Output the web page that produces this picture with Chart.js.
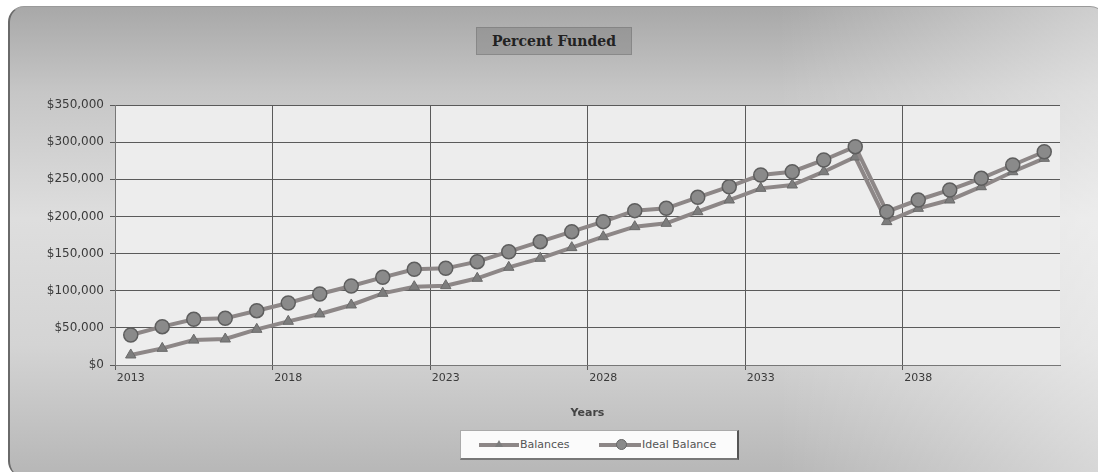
<!DOCTYPE html>
<html>
<head>
<meta charset="utf-8">
<script src="https://cdn.jsdelivr.net/npm/chart.js@4.4.0/dist/chart.umd.min.js"></script>
<style>
  html, body { margin: 0; padding: 0; background: #fff; }
  #wrap { position: relative; width: 1098px; height: 472px; overflow: hidden; }
  #card {
    position: absolute; left: 8px; top: 6px; width: 1096px; height: 470px;
    border-radius: 16px;
    border-left: 2px solid #6a6a6a; border-top: 1px solid #9a9a9a;
    background:
      linear-gradient(to right, rgba(255,255,255,0.0) 0%, rgba(255,255,255,0.0) 70%, rgba(255,255,255,0.45) 100%),
      linear-gradient(to bottom, #a8a8a8 0%, #c6c6c6 18%, #dedede 45%, #d4d4d4 72%, #b6b6b6 100%);
  }
  #title {
    position: absolute; left: 476px; top: 27px; width: 154px; height: 26px;
    background: rgba(110,110,110,0.35); border: 1px solid rgba(90,90,90,0.3);
    font: bold 14px "DejaVu Serif", "Liberation Serif", serif; color: #222;
    text-align: center; line-height: 26px;
  }
  #legend {
    position: absolute; left: 460px; top: 430px; width: 276px; height: 27px;
    background: #fbfbfb; border: 1px solid #aaa; border-right: 2px solid #555; border-bottom: 2px solid #777;
    font: 11px "DejaVu Sans", Arial, sans-serif; color: #555;
  }
  .item { position: absolute; top: 0; height: 27px; line-height: 27px; }
  .sample { position: absolute; top: 12px; height: 4px; background: #8d8787; }
  .tri { position: absolute; width: 0; height: 0; border-left: 4px solid transparent; border-right: 4px solid transparent; border-bottom: 7px solid #7d7d7d; }
  .dot { position: absolute; width: 9px; height: 9px; border-radius: 50%; background: #8a8a8a; border: 1px solid #666; }
  canvas { position: absolute; left: 0; top: 0; }
</style>
</head>
<body>
<div id="wrap">
  <div id="card"></div>
  <div id="title">Percent Funded</div>
  <canvas id="fundChart" width="1098" height="472"></canvas>
  <div id="legend">
    <div class="item" style="left:18px;width:110px">
      <span class="sample" style="left:0;width:40px"></span>
      <span class="tri" style="left:16px;top:9px"></span>
      <span style="position:absolute;left:41px">Balances</span>
    </div>
    <div class="item" style="left:138px;width:135px">
      <span class="sample" style="left:0;width:42px"></span>
      <span class="dot" style="left:17px;top:8px"></span>
      <span style="position:absolute;left:43px">Ideal Balance</span>
    </div>
  </div>
</div>
<script>
const years = ["2013", "2014", "2015", "2016", "2017", "2018", "2019", "2020", "2021", "2022",
  "2023", "2024", "2025", "2026", "2027", "2028", "2029", "2030", "2031", "2032",
  "2033", "2034", "2035", "2036", "2037", "2038", "2039", "2040", "2041", "2042"];

const balances = [13500, 22400, 33500, 35000, 48000, 58800, 68700, 80800, 96500, 105400,
  106800, 116700, 131500, 143600, 158000, 172700, 186200, 190700, 206400, 222100,
  237800, 242300, 260200, 280000, 193000, 210900, 222100, 240000, 260200, 278200];

const idealBalance = [40400, 51600, 61500, 62800, 73100, 83500, 95600, 106300, 118000, 128800,
  130100, 139100, 152500, 166000, 179500, 193000, 207800, 210900, 225700, 240000,
  255800, 260200, 276000, 293900, 206400, 222100, 235600, 251300, 269200, 287100];

const yTicks = [0, 50000, 100000, 150000, 200000, 250000, 300000, 350000];

const tickFont = { family: "'DejaVu Sans', Arial, sans-serif", size: 12 };

// light plot area behind the grid
const plotBg = {
  id: "plotBg",
  beforeDraw(chart) {
    const a = chart.chartArea;
    const ctx = chart.ctx;
    ctx.save();
    ctx.fillStyle = "#ededed";
    ctx.fillRect(a.left, a.top, a.right - a.left, a.bottom - a.top);
    ctx.restore();
  },
};

const lineColor = "#8d8787";

new Chart(document.getElementById("fundChart"), {
  type: "line",
  data: {
    labels: years,
    datasets: [
      {
        label: "Balances",
        data: balances,
        borderColor: lineColor,
        borderWidth: 4,
        pointStyle: "triangle",
        pointRadius: 6,
        pointBackgroundColor: "#7d7d7d",
        pointBorderColor: "#6a6a6a",
        pointBorderWidth: 1,
        tension: 0,
        order: 1,
      },
      {
        label: "Ideal Balance",
        data: idealBalance,
        borderColor: lineColor,
        borderWidth: 4,
        pointStyle: "circle",
        pointRadius: 7,
        pointBackgroundColor: "#8a8a8a",
        pointBorderColor: "#5e5e5e",
        pointBorderWidth: 1.5,
        tension: 0,
        order: 0,
      },
    ],
  },
  options: {
    responsive: false,
    animation: false,
    layout: { padding: { left: 8, right: 38, top: 105, bottom: 52 } },
    plugins: {
      legend: { display: false },
      title: { display: false },
      tooltip: { enabled: false },
    },
    scales: {
      x: {
        type: "category",
        offset: true,
        afterFit: (s) => { s.height = 55; },
        grid: {
          offset: true,
          tickLength: 5,
          color: (c) => (c.index % 5 === 0 ? "#5a5a5a" : "rgba(0,0,0,0)"),
        },
        border: { color: "#777" },
        ticks: {
          autoSkip: false,
          maxRotation: 0,
          padding: 2,
          color: "#3a3a3a",
          font: { family: "'DejaVu Sans', Arial, sans-serif", size: 11 },
          callback: function (v, i) {
            return i % 5 === 0 ? years[i] : "";
          },
        },
        title: {
          display: true,
          text: "Years",
          color: "#444",
          padding: { top: 0, bottom: 0 },
          font: { family: "'DejaVu Sans', Arial, sans-serif", size: 11, weight: "bold" },
        },
      },
      y: {
        min: yTicks[0],
        max: yTicks[yTicks.length - 1],
        afterFit: (s) => { s.width = 107; },
        afterBuildTicks: (s) => { s.ticks = yTicks.map((v) => ({ value: v })); },
        grid: { color: "#5a5a5a", tickLength: 5 },
        border: { color: "#777" },
        ticks: {
          padding: 6,
          color: "#3a3a3a",
          font: tickFont,
          callback: (v) => "$" + v.toLocaleString("en-US"),
        },
      },
    },
  },
  plugins: [plotBg],
});
</script>
</body>
</html>
